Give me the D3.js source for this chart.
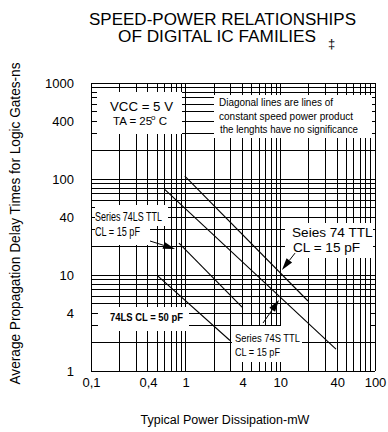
<!DOCTYPE html>
<html><head><meta charset="utf-8">
<script src="https://cdn.jsdelivr.net/npm/d3@7/dist/d3.min.js"></script>
<style>
html,body{margin:0;padding:0;background:#fff;}
svg{display:block;}
text{font-family:"Liberation Sans",Arial,Helvetica,sans-serif;fill:#000;}
</style></head><body>
<svg id="chart" width="388" height="432"></svg>
<script>
// ---------------- data ----------------
const titleLines = ["SPEED-POWER RELATIONSHIPS", "OF DIGITAL IC FAMILIES"];
const titleMark = "\u2021";
const xDomain = [0.1, 100];          // Typical power dissipation, mW
const yDomain = [1, 1000];           // Propagation delay, ns
const xTickValues = [0.1, 0.4, 1, 4, 10, 40, 100];
const yTickValues = [1, 4, 10, 40, 100, 400, 1000];
const xLabel = "Typical Power Dissipation-mW";
const yLabel = "Average Propagation Delay Times for Logic Gates-ns";
// horizontal grid values that are only drawn on the left part of the grid
const partialGridY = [3, 4];
const partialGridEndPower = 10;

// Diagonal lines of constant speed-power product (start / end points, mW & ns)
const lineStartPower = [0.60, 0.98, 0.85, 0.50];
const lineStartDelay = [78, 107, 21.5, 9.9];
const lineEndPower   = [38.7, 19.6, 3.94, 2.94];
const lineEndDelay   = [1.69, 5.36, 4.64, 2.08];

// Arrows (from / to, mW & ns)
const arrowFromPower = [0.42, 14.3, 6.56];
const arrowFromDelay = [22.6, 16.9, 3.16];
const arrowToPower   = [0.772, 10.4, 9.69];
const arrowToDelay   = [18.7, 11.3, 5.49];

// ---------------- layout ----------------
const W = 388, H = 432;
const svg = d3.select("#chart");
svg.append("rect").attr("width", W).attr("height", H).attr("fill", "#fff");

const x = d3.scaleLog().domain(xDomain).range([91, 375]);
const y = d3.scaleLog().domain(yDomain).range([371, 83]);

// grid (log grid)
const grid = svg.append("g").attr("stroke", "#000").attr("stroke-width", 1)
  .attr("shape-rendering", "crispEdges");
grid.selectAll("line.v").data(x.ticks()).join("line").attr("class", "v")
  .attr("x1", d => x(d)).attr("x2", d => x(d))
  .attr("y1", y(yDomain[0])).attr("y2", y(yDomain[1]));
grid.selectAll("line.h").data(y.ticks()).join("line").attr("class", "h")
  .attr("y1", d => y(d)).attr("y2", d => y(d))
  .attr("x1", x(xDomain[0]))
  .attr("x2", d => partialGridY.includes(d) ? x(partialGridEndPower) : x(xDomain[1]));
// short stubs at the right frame for the partial lines
grid.selectAll("line.s").data(partialGridY).join("line").attr("class", "s")
  .attr("y1", d => y(d)).attr("y2", d => y(d))
  .attr("x1", x(xDomain[1]) - 4).attr("x2", x(xDomain[1]));

// diagonal lines
const diag = lineStartPower.map((p, i) => [[p, lineStartDelay[i]], [lineEndPower[i], lineEndDelay[i]]]);
svg.append("g").selectAll("line").data(diag).join("line")
  .attr("x1", d => x(d[0][0])).attr("y1", d => y(d[0][1]))
  .attr("x2", d => x(d[1][0])).attr("y2", d => y(d[1][1]))
  .attr("stroke", "#000").attr("stroke-width", 1.1);

// axes (labels only)
const fmt = d => String(d).replace(".", ",");
const gx = svg.append("g").attr("transform", `translate(0,${y(yDomain[0])})`)
  .call(d3.axisBottom(x).tickValues(xTickValues).tickFormat(fmt).tickSize(0).tickPadding(7));
const gy = svg.append("g").attr("transform", `translate(${x(xDomain[0])},0)`)
  .call(d3.axisLeft(y).tickValues(yTickValues).tickFormat(d => String(d)).tickSize(0).tickPadding(17));
[gx, gy].forEach(g => {
  g.select(".domain").remove();
  g.selectAll("text").attr("font-family", "'Liberation Sans',Arial,sans-serif")
    .attr("font-size", 13).attr("fill", "#000");
});

// white boxes behind annotations
const boxes = [
  [97, 92, 182, 134],
  [214, 95, 372, 138],
  [95, 205, 168, 226],
  [95, 226, 150, 245],
  [98, 307, 189, 331],
  [285, 223, 373, 258],
  [232, 326, 302, 362]
];
svg.append("g").selectAll("rect").data(boxes).join("rect")
  .attr("x", d => d[0]).attr("y", d => d[1])
  .attr("width", d => d[2] - d[0]).attr("height", d => d[3] - d[1])
  .attr("fill", "#fff");

// annotation texts
const notes = [
  {t: "VCC = 5 V", x: 110, y: 110.5, s: 12, len: 63},
  {t: "Diagonal lines are lines of", x: 219, y: 106, s: 11.5, len: 114},
  {t: "constant speed power product", x: 219, y: 119.5, s: 11.5, len: 134},
  {t: "the lenghts have no significance", x: 220, y: 133, s: 11, len: 138},
  {t: "Series 74LS TTL", x: 95, y: 221, s: 12.5, len: 67},
  {t: "CL = 15 pF", x: 95, y: 236, s: 12.5, len: 45},
  {t: "74LS CL = 50 pF", x: 110, y: 321, s: 10.5, len: 73, w: "bold"},
  {t: "Seies 74 TTL", x: 292, y: 236.5, s: 13.6},
  {t: "CL = 15 pF", x: 293, y: 251.5, s: 13.6},
  {t: "Series 74S TTL", x: 235, y: 341.5, s: 11.5, len: 65},
  {t: "CL = 15 pF", x: 235, y: 356, s: 11.5, len: 45}
];
const nt = svg.append("g").selectAll("text").data(notes).join("text")
  .attr("x", d => d.x).attr("y", d => d.y)
  .attr("font-size", d => d.s).attr("font-weight", d => d.w || "normal")
  .text(d => d.t);
nt.filter(d => d.len).attr("textLength", d => d.len).attr("lengthAdjust", "spacingAndGlyphs");

const ta = svg.append("text").attr("x", 113).attr("y", 124.5).attr("font-size", 11.5);
ta.append("tspan").text("TA = 25");
ta.append("tspan").attr("font-size", 8).attr("dx", -1).attr("dy", -5).text("o");
ta.append("tspan").attr("dy", 5).text(" C");

// arrows
const arrows = arrowFromPower.map((p, i) => ({
  x1: x(p), y1: y(arrowFromDelay[i]), x2: x(arrowToPower[i]), y2: y(arrowToDelay[i])
}));
const ag = svg.append("g");
arrows.forEach(a => {
  const dx = a.x2 - a.x1, dy = a.y2 - a.y1, L = Math.hypot(dx, dy);
  const ux = dx / L, uy = dy / L, hl = 12, hw = 3.5;
  const bx = a.x2 - ux * hl, by = a.y2 - uy * hl;
  ag.append("line").attr("x1", a.x1).attr("y1", a.y1).attr("x2", bx).attr("y2", by)
    .attr("stroke", "#000").attr("stroke-width", 1);
  ag.append("polygon")
    .attr("points", [[a.x2, a.y2], [bx - uy * hw, by + ux * hw], [bx + uy * hw, by - ux * hw]].map(p => p.join(",")).join(" "))
    .attr("fill", "#000");
});

// titles
svg.append("text").attr("x", 222.5).attr("y", 24.5).attr("text-anchor", "middle")
  .attr("font-size", 16).attr("fill", "#111").attr("textLength", 267).attr("lengthAdjust", "spacingAndGlyphs")
  .text(titleLines[0]);
svg.append("text").attr("x", 217).attr("y", 41.5).attr("text-anchor", "middle")
  .attr("font-size", 16).attr("fill", "#111").attr("textLength", 198).attr("lengthAdjust", "spacingAndGlyphs")
  .text(titleLines[1]);
svg.append("text").attr("x", 331.5).attr("y", 47.5).attr("text-anchor", "middle")
  .attr("font-size", 13).text(titleMark);

// axis titles
svg.append("text").attr("x", 225).attr("y", 424).attr("text-anchor", "middle")
  .attr("font-size", 12.5).text(xLabel);
svg.append("text").attr("transform", "translate(20,223.5) rotate(-90)")
  .attr("text-anchor", "middle").attr("font-size", 14).attr("fill", "#444")
  .attr("textLength", 322).attr("lengthAdjust", "spacingAndGlyphs")
  .text(yLabel);
</script>
</body></html>
